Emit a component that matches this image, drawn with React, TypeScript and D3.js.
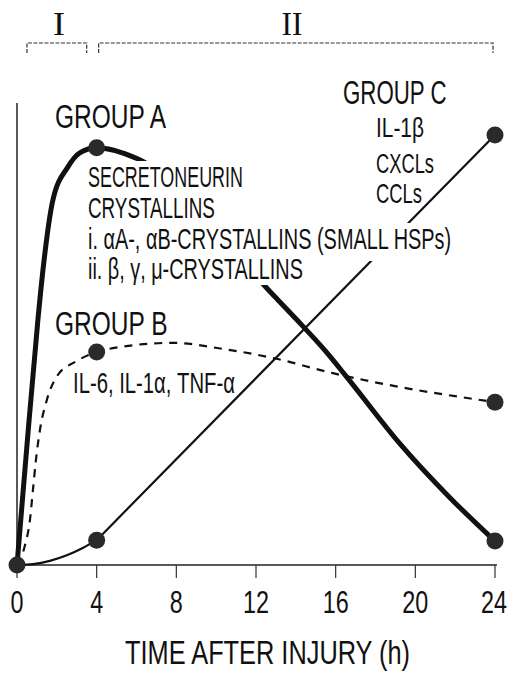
import React from 'react';
import * as d3 from 'd3';

const W = 510;
const H = 675;

// Marker values (hours after injury, relative level 0-100)
const markerHours = [0, 4, 24];
const groupA = [0, 90.7, 5.2];
const groupB = [0, 46.3, 35.4];
const groupC = [0, 5.4, 93.5];

// Curve traces
const traceAHours = [0, 0.5, 1.05, 1.3, 1.8, 2.55, 3.15, 4, 6.05, 12.95, 14.05, 15.45, 16.55, 19.2, 21.7, 24];
const traceAValues = [0, 26, 53.3, 64, 79.3, 86.5, 89.6, 90.7, 88.3, 58.3, 53.3, 46.7, 40.9, 26.5, 14.8, 5.2];

const traceBHours = [0, 0.4, 0.65, 0.8, 0.95, 1.15, 1.5, 2.05, 2.9, 4, 5.2, 7.8, 10.3, 12.85, 15.86, 19.2, 22.6, 24];
const traceBValues = [0, 4.3, 9.8, 16.3, 22.8, 29.3, 35.9, 41.3, 44.1, 46.3, 47.4, 48.3, 47, 45, 41.7, 38.7, 36.3, 35.4];

const traceCHours = [0, 0.8, 1.65, 2.5, 3.3, 4];
const traceCValues = [0, 0.2, 0.9, 2.1, 3.7, 5.4];

const tickHours = [0, 4, 8, 12, 16, 20, 24];
const tickLabels = ['0', '4', '8', '12', '16', '20', '24'];

const phaseLabels = ['I', 'II'];
const phaseStart = [0.5, 4.1];
const phaseEnd = [3.5, 23.9];

const groupATitle = 'GROUP A';
const groupALines = ['SECRETONEURIN', 'CRYSTALLINS', 'i. αA-, αB-CRYSTALLINS (SMALL HSPs)', 'ii. β, γ, μ-CRYSTALLINS'];
const groupBTitle = 'GROUP B';
const groupBLines = ['IL-6, IL-1α, TNF-α'];
const groupCTitle = 'GROUP C';
const groupCLines = ['IL-1β', 'CXCLs', 'CCLs'];
const xTitle = 'TIME AFTER INJURY (h)';

const FONT = '"Liberation Sans", Arial, sans-serif';
const SERIF = '"Liberation Serif", "DejaVu Serif", serif';

let measureCtx: CanvasRenderingContext2D | null = null;
function naturalWidth(text: string, size: number, family: string) {
  if (!measureCtx) {
    measureCtx = document.createElement('canvas').getContext('2d');
  }
  if (!measureCtx) return text.length * size * 0.55;
  measureCtx.font = `${size}px ${family}`;
  return measureCtx.measureText(text).width;
}

type TxtProps = {
  x: number;
  y: number;
  w: number;
  size: number;
  children: string;
  anchor?: 'start' | 'middle';
  family?: string;
};
function Txt({ x, y, w, size, children, anchor = 'start', family = FONT }: TxtProps) {
  const nat = naturalWidth(children, size, family);
  const sx = w / nat;
  const left = anchor === 'middle' ? x - w / 2 : x;
  return (
    <text
      transform={`translate(${left},${y}) scale(${sx.toFixed(4)},1)`}
      x={0}
      y={0}
      fontFamily={family}
      fontSize={size}
      fill="#111"
    >
      {children}
    </text>
  );
}

export default function App() {
  const x = d3.scaleLinear().domain([0, 24]).range([17, 495]);
  const y = d3.scaleLinear().domain([0, 100]).range([565, 105]);

  const curve = d3
    .line<[number, number]>()
    .x((d) => x(d[0]))
    .y((d) => y(d[1]))
    .curve(d3.curveMonotoneX);
  const straight = d3
    .line<[number, number]>()
    .x((d) => x(d[0]))
    .y((d) => y(d[1]));

  const zip = (a: number[], b: number[]) => a.map((h, i) => [h, b[i]] as [number, number]);

  const pathA = curve(zip(traceAHours, traceAValues)) || '';
  const pathB = curve(zip(traceBHours, traceBValues)) || '';
  const pathC1 = curve(zip(traceCHours, traceCValues)) || '';
  const pathC2 = straight(zip(markerHours.slice(1), groupC.slice(1))) || '';

  const dots: [number, number][] = [];
  markerHours.forEach((h, i) => {
    dots.push([h, groupA[i]]);
    if (i > 0) {
      dots.push([h, groupB[i]]);
      dots.push([h, groupC[i]]);
    }
  });

  const baseY = y(0);

  // layout of group A text block
  const aX = 88;
  const aBase = [187, 218, 249, 279];
  const aW = [155, 127, 364, 215];
  const cBase = [137, 173, 203];
  const cW = [48, 58, 46];

  return (
    <svg width={W} height={H} style={{ position: 'absolute', left: 0, top: 0, background: '#fff' }}>
      <rect x={0} y={0} width={W} height={H} fill="#fff" />

      {/* phase brackets */}
      {phaseLabels.map((lab, i) => {
        const x0 = x(phaseStart[i]);
        const x1 = x(phaseEnd[i]);
        return (
          <g key={lab}>
            <path
              d={`M${x0},53V43H${x1}V53`}
              fill="none"
              stroke="#333"
              strokeWidth={1.2}
              strokeDasharray="4 1.5"
            />
            <Txt x={i === 0 ? 59 : 292} y={35} w={i === 0 ? 12 : 21} size={33} anchor="middle" family={SERIF}>
              {lab}
            </Txt>
          </g>
        );
      })}

      {/* axes */}
      <line x1={x(0)} x2={x(0)} y1={103} y2={baseY} stroke="#222" strokeWidth={1.5} />
      <line x1={x(0)} x2={x(24) + 2} y1={baseY} y2={baseY} stroke="#222" strokeWidth={1.6} />
      {tickHours.map((t, i) => (
        <g key={t}>
          <line x1={x(t)} x2={x(t)} y1={baseY} y2={baseY + 13} stroke="#333" strokeWidth={1.2} />
          <Txt x={i === tickHours.length - 1 ? x(t) - 1 : x(t)} y={613} w={tickLabels[i].length * 13} size={32} anchor="middle">
            {tickLabels[i]}
          </Txt>
        </g>
      ))}
      <Txt x={125} y={664} w={287} size={33}>
        {xTitle}
      </Txt>

      {/* series lines */}
      <path d={pathB} fill="none" stroke="#111" strokeWidth={2.2} strokeDasharray="8 7" />
      <path d={pathC1} fill="none" stroke="#111" strokeWidth={2.2} />
      <path d={pathC2} fill="none" stroke="#111" strokeWidth={2.2} />
      <path d={pathA} fill="none" stroke="#111" strokeWidth={5} strokeLinejoin="round" />

      {/* group A text block with white backgrounds */}
      {groupALines.map((t, i) => (
        <rect key={'bg' + i} x={aX - 3} y={aBase[i] - 26} width={aW[i] + 6} height={i === 2 ? 38 : 32} fill="#fff" />
      ))}
      {groupALines.map((t, i) => (
        <Txt key={t} x={aX} y={aBase[i]} w={aW[i]} size={29}>
          {t}
        </Txt>
      ))}
      <Txt x={55} y={128} w={113} size={33}>
        {groupATitle}
      </Txt>

      {/* group B */}
      <Txt x={55} y={335} w={113} size={33}>
        {groupBTitle}
      </Txt>
      <Txt x={73} y={393} w={162} size={30}>
        {groupBLines[0]}
      </Txt>

      {/* group C */}
      <Txt x={343} y={104} w={104} size={33}>
        {groupCTitle}
      </Txt>
      {groupCLines.map((t, i) => (
        <Txt key={t} x={376} y={cBase[i]} w={cW[i]} size={28}>
          {t}
        </Txt>
      ))}

      {/* markers */}
      {dots.map((d, i) => (
        <circle key={i} cx={x(d[0])} cy={y(d[1])} r={8.5} fill="#2a2a2a" />
      ))}
    </svg>
  );
}
